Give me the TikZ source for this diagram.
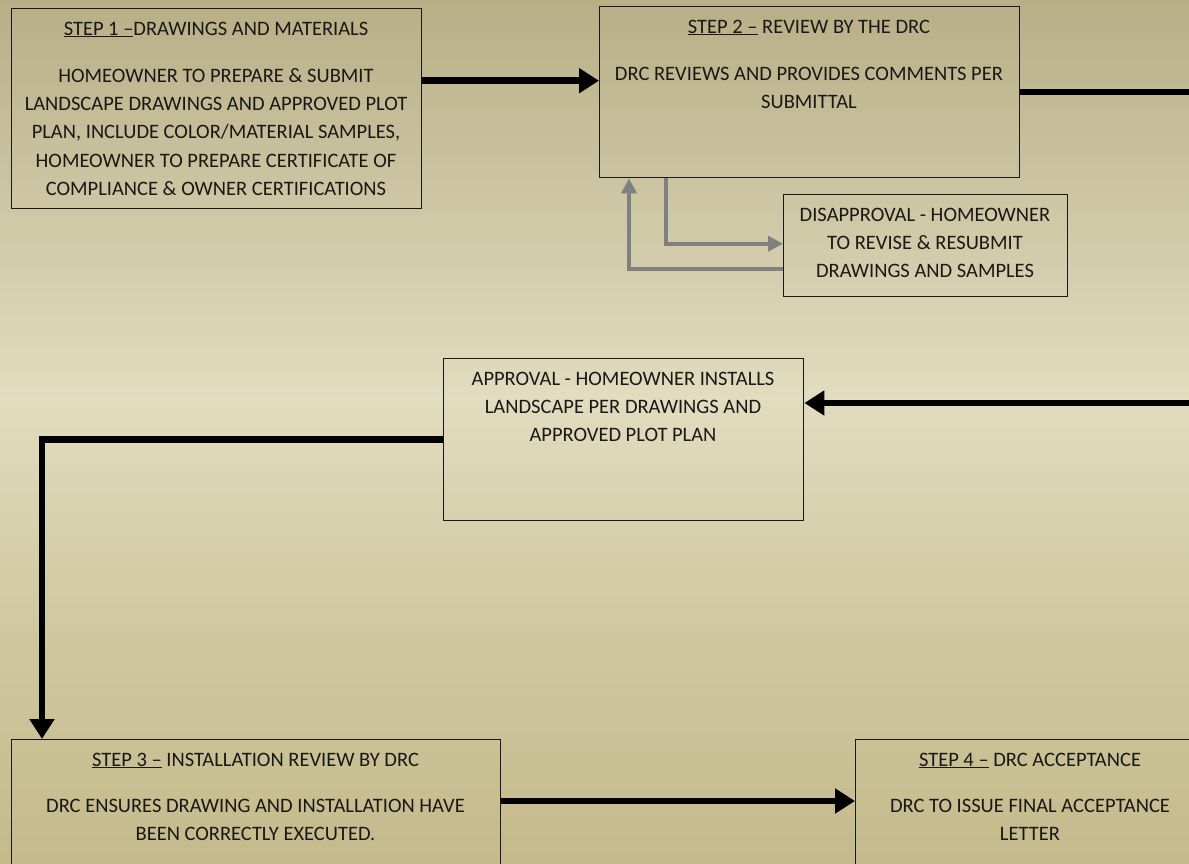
\documentclass[tikz,border=0pt]{standalone}
\usepackage{fontspec}
\setmainfont{Carlito}
\usetikzlibrary{arrows.meta}

\definecolor{bgtop}{RGB}{184,175,135}
\definecolor{bgmid}{RGB}{226,220,192}
\definecolor{bglow}{RGB}{208,200,160}
\definecolor{bgbot}{RGB}{196,186,140}
\definecolor{inkcol}{RGB}{26,24,20}
\definecolor{backcol}{RGB}{128,128,128}
\pgfdeclareverticalshading{bgshade}{100bp}{color(0bp)=(bgbot); color(25bp)=(bgbot); color(39bp)=(bglow); color(52bp)=(bgmid); color(75bp)=(bgtop); color(100bp)=(bgtop)}

\tikzset{
  box/.style={draw=inkcol, line width=1.4pt, inner sep=0pt, anchor=north west},
  txt/.style={anchor=north, align=center, inner sep=0pt, text=inkcol,
    font=\fontsize{20.5}{28.3}\selectfont},
  flow/.style={draw=black, line width=6.5pt, -{Triangle[length=20pt,width=24pt]}},
  back/.style={draw=backcol, line width=4pt, -{Triangle[length=15pt,width=15pt]}},
}

\begin{document}
\begin{tikzpicture}[x=1pt,y=-1pt]
    \useasboundingbox (0,0) rectangle (1189,864);
    \shade[shading=bgshade] (0,0) rectangle (1189,864);
    \clip (0,0) rectangle (1189,864);

    % boxes
    \node[box, minimum width=410pt, minimum height=200pt] (s1) at (11,8) {};
    \node[box, minimum width=420pt, minimum height=171pt] (s2) at (599,6) {};
    \node[box, minimum width=284pt, minimum height=102pt] (dis) at (783,194) {};
    \node[box, minimum width=360pt, minimum height=162pt] (app) at (443,358) {};
    \node[box, minimum width=489pt, minimum height=160pt] (s3) at (11,739) {};
    \node[box, minimum width=350pt, minimum height=160pt] (s4) at (855,739) {};

    % texts
    \node[txt] (s1t) at (216,21.5) {\underline{STEP 1 –}DRAWINGS AND MATERIALS\\[19pt]
        HOMEOWNER TO PREPARE \& SUBMIT\\
        LANDSCAPE DRAWINGS AND APPROVED PLOT\\
        PLAN, INCLUDE COLOR/MATERIAL SAMPLES,\\
        HOMEOWNER TO PREPARE CERTIFICATE OF\\
        COMPLIANCE \& OWNER CERTIFICATIONS};
    \node[txt] (s2t) at (809,19.5) {\underline{STEP 2 –} REVIEW BY THE DRC\\[19pt]
        DRC REVIEWS AND PROVIDES COMMENTS PER\\
        SUBMITTAL};
    \node[txt] (dist) at (925,207.5) {DISAPPROVAL - HOMEOWNER\\
        TO REVISE \& RESUBMIT\\
        DRAWINGS AND SAMPLES};
    \node[txt] (appt) at (623,371.5) {APPROVAL - HOMEOWNER INSTALLS\\
        LANDSCAPE PER DRAWINGS AND\\
        APPROVED PLOT PLAN};
    \node[txt] (s3t) at (255.5,752.5) {\underline{STEP 3 –} INSTALLATION REVIEW BY DRC\\[18pt]
        DRC ENSURES DRAWING AND INSTALLATION HAVE\\
        BEEN CORRECTLY EXECUTED.};
    \node[txt] (s4t) at (1030,752.5) {\underline{STEP 4 –} DRC ACCEPTANCE\\[18pt]
        DRC TO ISSUE FINAL ACCEPTANCE\\
        LETTER};

    % free ends at the right edge
    \coordinate (outA) at (1189,92);
    \coordinate (outB) at (1189,403);

    % connectors
    \draw[flow] ([yshift=28pt]s1.east) -- ([yshift=28pt]s1.east -| s2.west);
    \draw[draw=black, line width=6.5pt] (s2.east) -- (s2.east -| outA);
    \draw[flow] (outB) -- (outB -| app.east);
    \draw[flow] (app.west) -| ([xshift=31pt]s3.north west);
    \draw[flow] ([yshift=-62pt]s3.north east) -- ([yshift=-62pt]s3.north east -| s4.west);
    \draw[back] ([xshift=67pt]s2.south west) |- ([yshift=2pt]dis.west);
    \draw[back] ([yshift=-23pt]dis.west) -| ([xshift=30pt]s2.south west);
\end{tikzpicture}
\end{document}
